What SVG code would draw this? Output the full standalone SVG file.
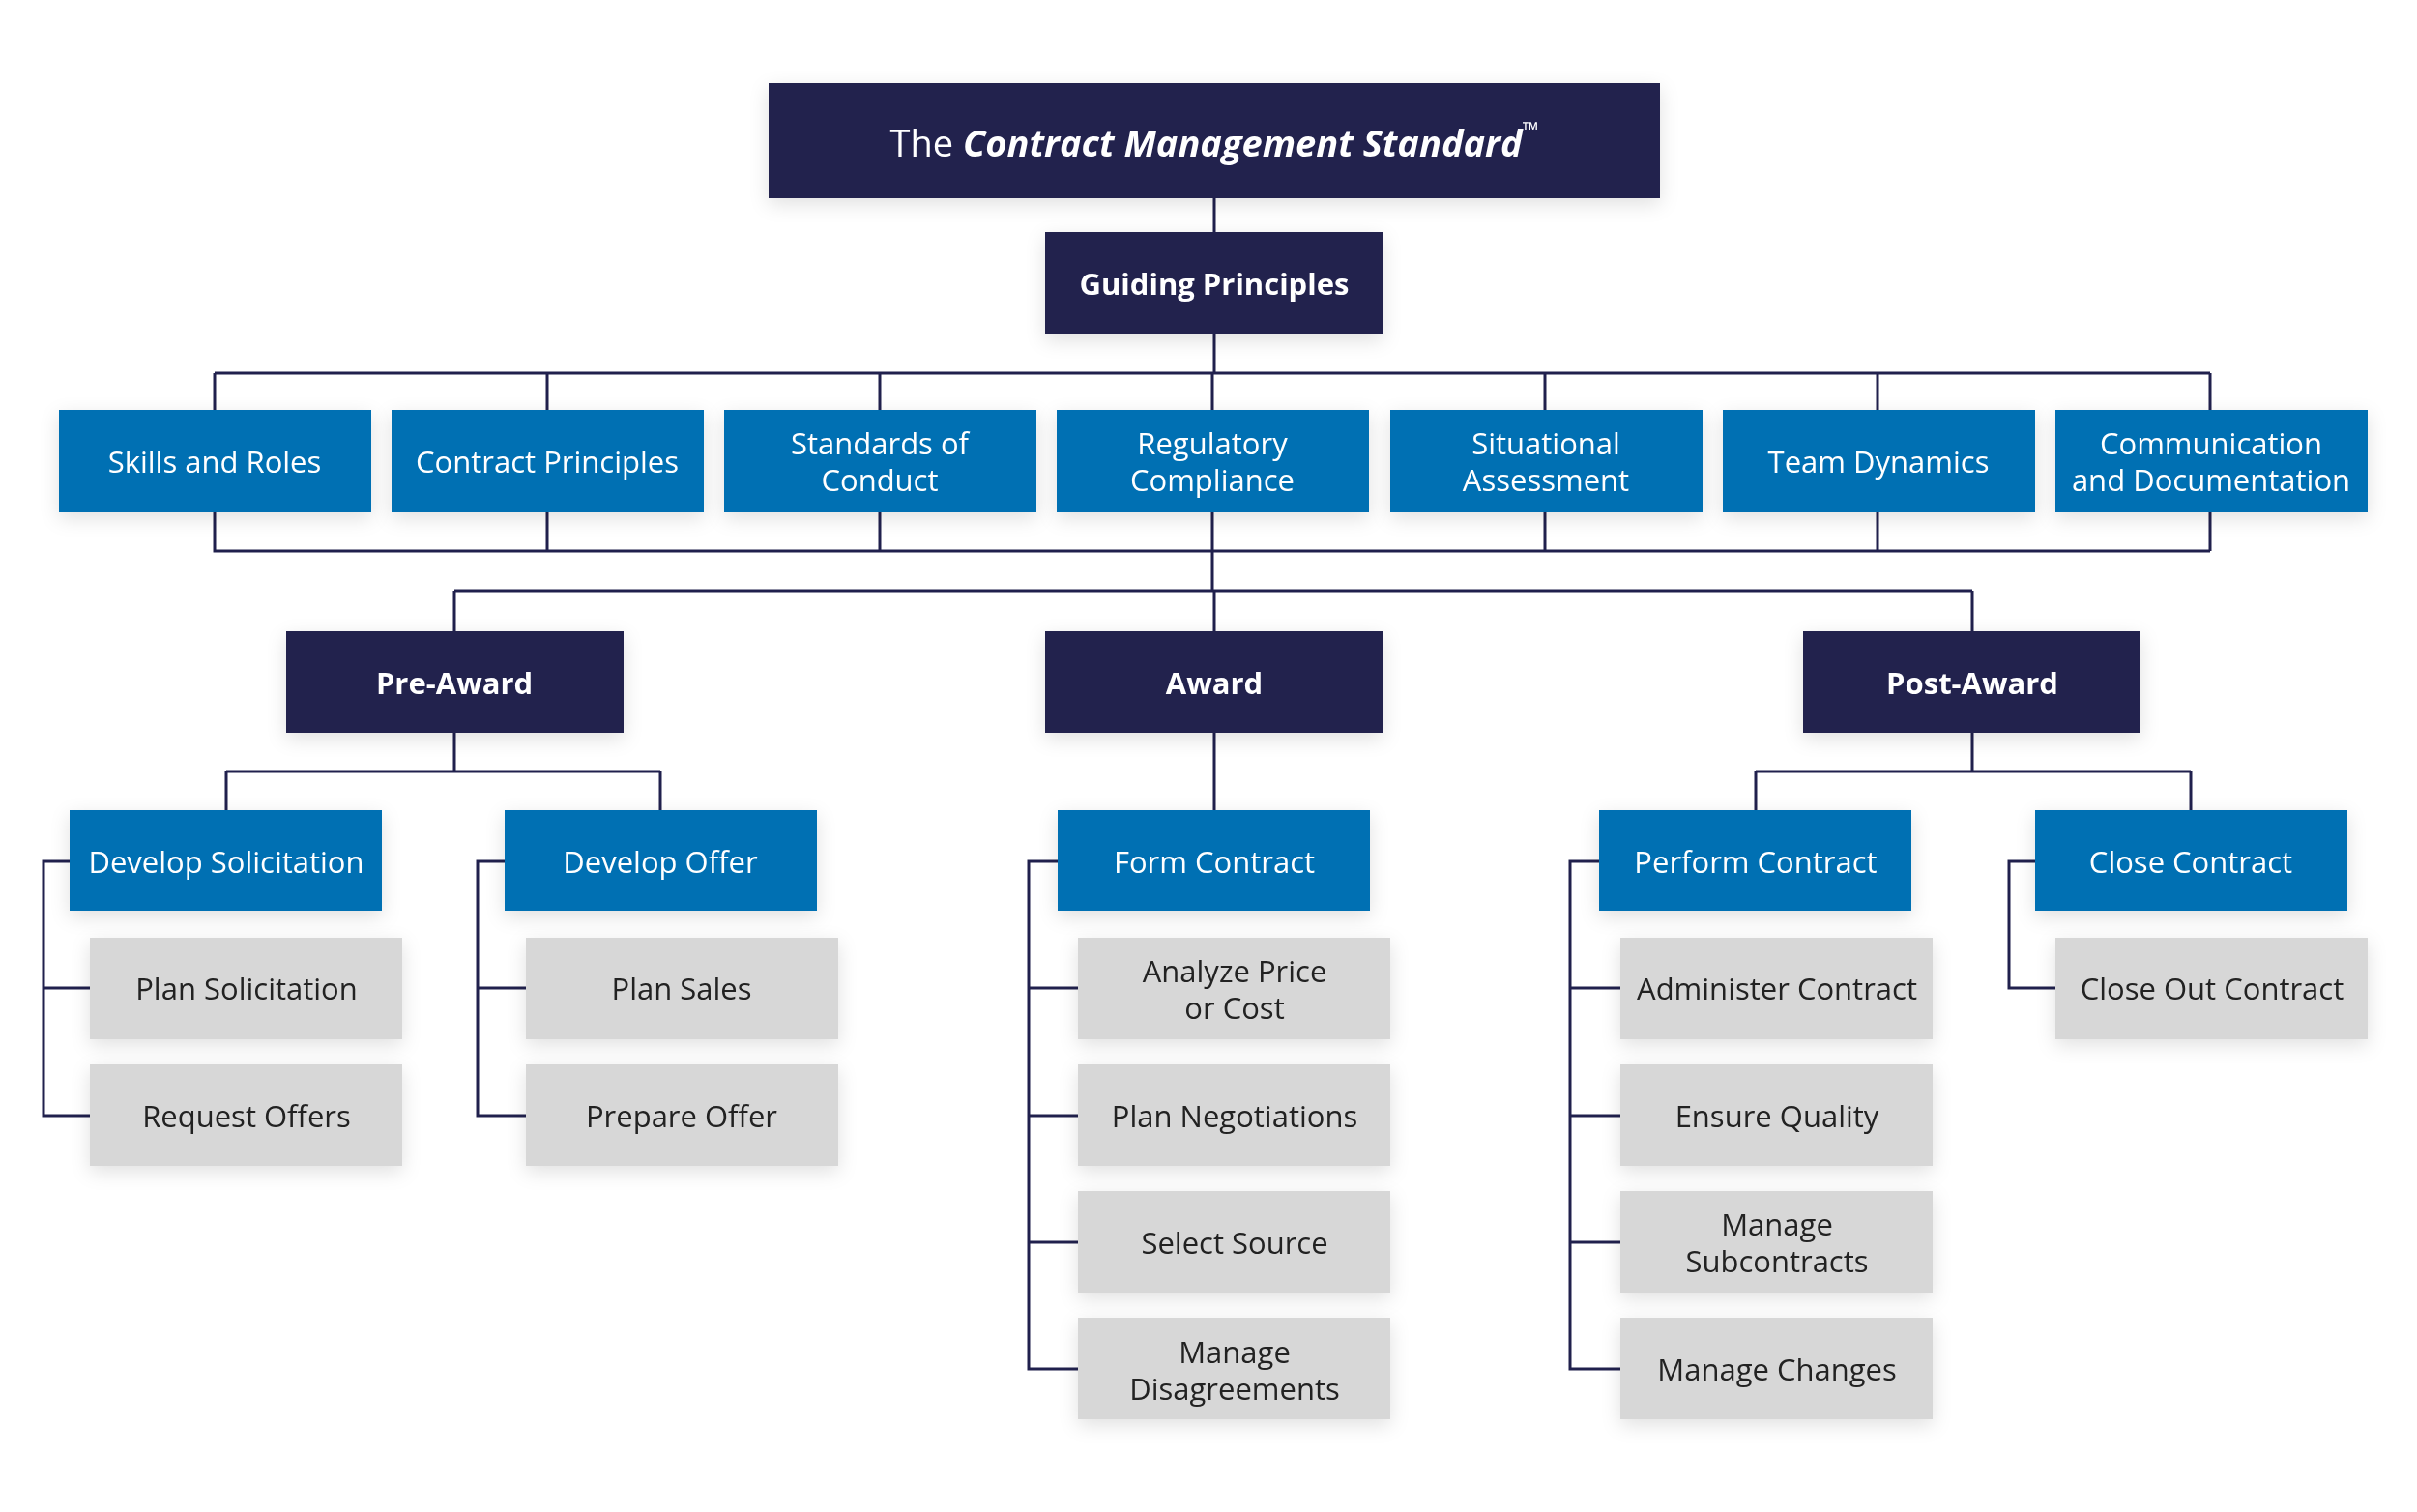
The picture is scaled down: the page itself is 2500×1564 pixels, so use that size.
<svg xmlns="http://www.w3.org/2000/svg" width="2500" height="1564" viewBox="0 0 2500 1564">
<style>
.n{fill:#20204d}.b{fill:#006fb3}.g{fill:#d7d7d7}
text{font-family:"Open Sans","Noto Sans",sans-serif;font-size:31px;text-anchor:middle;dominant-baseline:central}
.w{fill:#fff}.d{fill:#222}.bold{font-weight:bold}
.c{fill:none;stroke:#20204d;stroke-width:3}
</style>
<defs><filter id="s" x="-20%" y="-30%" width="140%" height="160%"><feDropShadow dx="0" dy="6" stdDeviation="10" flood-color="#000" flood-opacity="0.12"/></filter></defs>
<rect width="2500" height="1564" fill="#fff"/>
<g id="connectors" class="c">
<path d="M1256 205V240M1256 346V386M222 386H2286M222 386V424M566 386V424M910 386V424M1254 386V424M1598 386V424M1942 386V424M2286 386V424"/>
<path d="M222 530V570H2286M2286 530V570M566 530V570M910 530V570M1254 530V611M1598 530V570M1942 530V570M470 611H2040M470 611V653M1256 611V653M2040 611V653"/>
<path d="M470 758V798M234 798H683M234 798V838M683 798V838M1256 758V838M2040 758V798M1816 798H2266M1816 798V838M2266 798V838"/>
<path d="M72 891H45V1154H93M45 1022H93"/>
<path d="M522 891H494V1154H544M494 1022H544"/>
<path d="M1094 891H1064V1416H1115M1064 1022H1115M1064 1154H1115M1064 1285H1115"/>
<path d="M1654 891H1624V1416H1676M1624 1022H1676M1624 1154H1676M1624 1285H1676"/>
<path d="M2105 891H2078V1022H2126"/>
</g>
<g id="title" filter="url(#s)"><rect class="n" x="795" y="86" width="922" height="119"/><text class="w" x="1256" y="147" style="font-size:38px">The <tspan font-weight="bold" font-style="italic">Contract Management Standard</tspan><tspan dy="-14" font-size="22">™</tspan></text></g>
<g id="guiding" filter="url(#s)"><rect class="n" x="1081" y="240" width="349" height="106"/><text class="w bold" x="1256" y="293">Guiding Principles</text></g>
<g id="skills" filter="url(#s)"><rect class="b" x="61" y="424" width="323" height="106"/><text class="w" x="222" y="477">Skills and Roles</text></g>
<g id="principles" filter="url(#s)"><rect class="b" x="405" y="424" width="323" height="106"/><text class="w" x="566" y="477">Contract Principles</text></g>
<g id="standards" filter="url(#s)"><rect class="b" x="749" y="424" width="323" height="106"/><text class="w" x="910" y="458">Standards of</text><text class="w" x="910" y="496">Conduct</text></g>
<g id="regulatory" filter="url(#s)"><rect class="b" x="1093" y="424" width="323" height="106"/><text class="w" x="1254" y="458">Regulatory</text><text class="w" x="1254" y="496">Compliance</text></g>
<g id="situational" filter="url(#s)"><rect class="b" x="1438" y="424" width="323" height="106"/><text class="w" x="1599" y="458">Situational</text><text class="w" x="1599" y="496">Assessment</text></g>
<g id="team" filter="url(#s)"><rect class="b" x="1782" y="424" width="323" height="106"/><text class="w" x="1943" y="477">Team Dynamics</text></g>
<g id="communication" filter="url(#s)"><rect class="b" x="2126" y="424" width="323" height="106"/><text class="w" x="2287" y="458">Communication</text><text class="w" x="2287" y="496">and Documentation</text></g>
<g id="preaward" filter="url(#s)"><rect class="n" x="296" y="653" width="349" height="105"/><text class="w bold" x="470" y="706">Pre-Award</text></g>
<g id="award" filter="url(#s)"><rect class="n" x="1081" y="653" width="349" height="105"/><text class="w bold" x="1256" y="706">Award</text></g>
<g id="postaward" filter="url(#s)"><rect class="n" x="1865" y="653" width="349" height="105"/><text class="w bold" x="2040" y="706">Post-Award</text></g>
<g id="devsol" filter="url(#s)"><rect class="b" x="72" y="838" width="323" height="104"/><text class="w" x="234" y="891">Develop Solicitation</text></g>
<g id="devoffer" filter="url(#s)"><rect class="b" x="522" y="838" width="323" height="104"/><text class="w" x="683" y="891">Develop Offer</text></g>
<g id="form" filter="url(#s)"><rect class="b" x="1094" y="838" width="323" height="104"/><text class="w" x="1256" y="891">Form Contract</text></g>
<g id="perform" filter="url(#s)"><rect class="b" x="1654" y="838" width="323" height="104"/><text class="w" x="1816" y="891">Perform Contract</text></g>
<g id="close" filter="url(#s)"><rect class="b" x="2105" y="838" width="323" height="104"/><text class="w" x="2266" y="891">Close Contract</text></g>
<g id="plansol" filter="url(#s)"><rect class="g" x="93" y="970" width="323" height="105"/><text class="d" x="255" y="1022">Plan Solicitation</text></g>
<g id="reqoffers" filter="url(#s)"><rect class="g" x="93" y="1101" width="323" height="105"/><text class="d" x="255" y="1154">Request Offers</text></g>
<g id="plansales" filter="url(#s)"><rect class="g" x="544" y="970" width="323" height="105"/><text class="d" x="705" y="1022">Plan Sales</text></g>
<g id="prepoffer" filter="url(#s)"><rect class="g" x="544" y="1101" width="323" height="105"/><text class="d" x="705" y="1154">Prepare Offer</text></g>
<g id="analyze" filter="url(#s)"><rect class="g" x="1115" y="970" width="323" height="105"/><text class="d" x="1277" y="1004">Analyze Price</text><text class="d" x="1277" y="1042">or Cost</text></g>
<g id="plenneg" filter="url(#s)"><rect class="g" x="1115" y="1101" width="323" height="105"/><text class="d" x="1277" y="1154">Plan Negotiations</text></g>
<g id="select" filter="url(#s)"><rect class="g" x="1115" y="1232" width="323" height="105"/><text class="d" x="1277" y="1285">Select Source</text></g>
<g id="disagree" filter="url(#s)"><rect class="g" x="1115" y="1363" width="323" height="105"/><text class="d" x="1277" y="1398">Manage</text><text class="d" x="1277" y="1436">Disagreements</text></g>
<g id="administer" filter="url(#s)"><rect class="g" x="1676" y="970" width="323" height="105"/><text class="d" x="1838" y="1022">Administer Contract</text></g>
<g id="quality" filter="url(#s)"><rect class="g" x="1676" y="1101" width="323" height="105"/><text class="d" x="1838" y="1154">Ensure Quality</text></g>
<g id="subcontracts" filter="url(#s)"><rect class="g" x="1676" y="1232" width="323" height="105"/><text class="d" x="1838" y="1266">Manage</text><text class="d" x="1838" y="1304">Subcontracts</text></g>
<g id="changes" filter="url(#s)"><rect class="g" x="1676" y="1363" width="323" height="105"/><text class="d" x="1838" y="1416">Manage Changes</text></g>
<g id="closeout" filter="url(#s)"><rect class="g" x="2126" y="970" width="323" height="105"/><text class="d" x="2288" y="1022">Close Out Contract</text></g>
</svg>
